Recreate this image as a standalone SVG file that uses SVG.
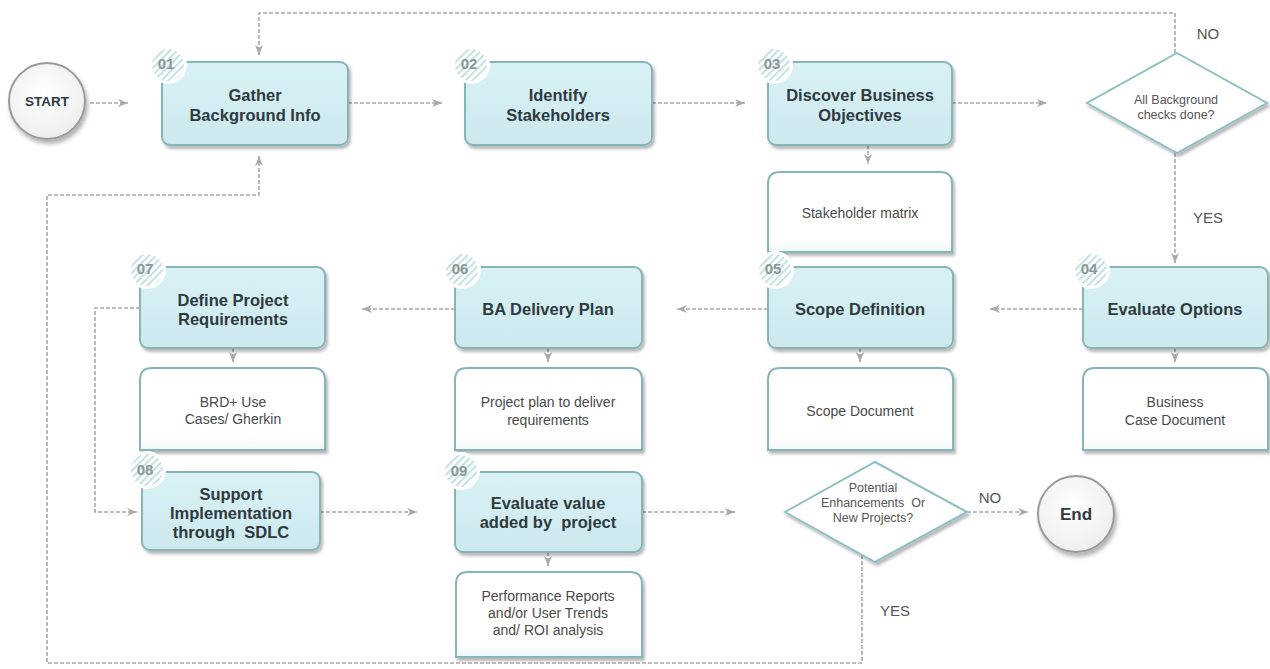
<svg xmlns="http://www.w3.org/2000/svg" width="1270" height="669" viewBox="0 0 1270 669">
<defs>
<pattern id="hatch" width="5" height="5" patternUnits="userSpaceOnUse" patternTransform="rotate(45)">
<rect width="5" height="5" fill="#ffffff"/>
<rect width="2.2" height="5" fill="#c7e2e4"/>
</pattern>
<linearGradient id="boxg" x1="0" y1="0" x2="0" y2="1">
<stop offset="0" stop-color="#d9f1f5"/>
<stop offset="1" stop-color="#cde9ee"/>
</linearGradient>
<linearGradient id="docg" x1="0" y1="0" x2="0" y2="1">
<stop offset="0" stop-color="#ffffff"/>
<stop offset="0.85" stop-color="#ffffff"/>
<stop offset="1" stop-color="#eef5f5"/>
</linearGradient>
<radialGradient id="circg" cx="0.45" cy="0.4" r="0.6">
<stop offset="0" stop-color="#ffffff"/>
<stop offset="1" stop-color="#eeeeee"/>
</radialGradient>
<filter id="sh" x="-10%" y="-10%" width="125%" height="130%">
<feDropShadow dx="2" dy="3" stdDeviation="1.5" flood-color="#000" flood-opacity="0.28"/>
</filter>
<filter id="shc" x="-20%" y="-20%" width="150%" height="150%">
<feDropShadow dx="2" dy="4" stdDeviation="2" flood-color="#000" flood-opacity="0.3"/>
</filter>
<marker id="arr" markerUnits="userSpaceOnUse" markerWidth="11" markerHeight="11" refX="10" refY="5" orient="auto">
<path d="M0,1 L10,5 L0,9 L3,5 Z" fill="#a9a9a9"/>
</marker>
<style>
.box{fill:url(#boxg);stroke:#86b5b7;stroke-width:2;filter:url(#sh)}
.doc{fill:url(#docg);stroke:#86b5b7;stroke-width:2;filter:url(#sh)}
.dia{fill:#ffffff;stroke:#8fc0c2;stroke-width:2;filter:url(#sh)}
.circ{fill:url(#circg);stroke:#9a9a9a;stroke-width:2;filter:url(#shc)}
.ring{fill:#ffffff}
.badge{fill:url(#hatch)}
.num{font-family:"Liberation Sans",Arial,sans-serif;font-weight:bold;font-size:15px;fill:#8a9898;text-anchor:middle;dominant-baseline:central}
.t{font-family:"Liberation Sans",Arial,sans-serif;font-weight:bold;font-size:16.5px;fill:#2e3a40;text-anchor:middle;dominant-baseline:central}
.d{font-family:"Liberation Sans",Arial,sans-serif;font-size:14px;fill:#4a4a4a;text-anchor:middle;dominant-baseline:central}
.q{font-family:"Liberation Sans",Arial,sans-serif;font-size:12.5px;fill:#555;text-anchor:middle;dominant-baseline:central}
.lbl{font-family:"Liberation Sans",Arial,sans-serif;font-size:15px;fill:#555;text-anchor:middle;dominant-baseline:central}
.c{fill:none;stroke:#a9a9a9;stroke-width:1.6;stroke-dasharray:4 2}
.ca{fill:none;stroke:#a9a9a9;stroke-width:1.6;stroke-dasharray:4 2;marker-end:url(#arr)}
</style>
</defs>
<rect width="1270" height="669" fill="#ffffff"/>

<g id="connectors">
<path class="ca" d="M90,103 H128"/>
<path class="ca" d="M348,103 H442"/>
<path class="ca" d="M652,103 H745"/>
<path class="ca" d="M952,103 H1047"/>
<path class="ca" d="M1175,53 V13 H259 V55"/>
<path class="ca" d="M868,145 V164"/>
<path class="ca" d="M1175,153 V263"/>
<path class="ca" d="M1083,309 H990"/>
<path class="ca" d="M768,309 H677"/>
<path class="ca" d="M455,309 H362"/>
<path class="ca" d="M1175,348 V362"/>
<path class="ca" d="M860,348 V362"/>
<path class="ca" d="M548,348 V362"/>
<path class="ca" d="M233,348 V362"/>
<path class="ca" d="M140,308 H95 V512 H137"/>
<path class="ca" d="M320,512 H417"/>
<path class="ca" d="M642,512 H735"/>
<path class="ca" d="M548,552 V566"/>
<path class="ca" d="M967,512 H1028"/>
<path class="ca" d="M862,549 V663 H47 V195 H259 V156"/>
<text class="lbl" x="1208" y="33">NO</text>
<text class="lbl" x="1208" y="217">YES</text>
<text class="lbl" x="990" y="497">NO</text>
<text class="lbl" x="895" y="610">YES</text>
</g>

<g id="start">
<circle class="circ" cx="47" cy="101" r="38"/>
<text class="t" x="47" y="101" style="font-size:13.5px">START</text>
</g>

<g id="n01">
<rect class="box" x="162" y="62" width="186" height="83" rx="8"/>
<circle class="ring" cx="168" cy="65" r="19"/>
<circle class="badge" cx="168" cy="65" r="16"/>
<text class="num" x="166" y="63">01</text>
<text class="t" x="255" y="95">Gather</text>
<text class="t" x="255" y="115">Background Info</text>
</g>

<g id="n02">
<rect class="box" x="465" y="62" width="187" height="83" rx="8"/>
<circle class="ring" cx="471" cy="65" r="19"/>
<circle class="badge" cx="471" cy="65" r="16"/>
<text class="num" x="469" y="63">02</text>
<text class="t" x="558" y="95">Identify</text>
<text class="t" x="558" y="115">Stakeholders</text>
</g>

<g id="n03">
<rect class="box" x="768" y="62" width="184" height="83" rx="8"/>
<circle class="ring" cx="774" cy="65" r="19"/>
<circle class="badge" cx="774" cy="65" r="16"/>
<text class="num" x="772" y="63">03</text>
<text class="t" x="860" y="95">Discover Business</text>
<text class="t" x="860" y="115">Objectives</text>
</g>

<g id="doc03">
<path class="doc" d="M768,184 Q768,172 780,172 H940 Q952,172 952,184 V252 H768 Z"/>
<text class="d" x="860" y="213">Stakeholder matrix</text>
</g>

<g id="dec1">
<polygon class="dia" points="1177,53 1267,103 1177,153 1087,103"/>
<text class="q" x="1176" y="100">All Background</text>
<text class="q" x="1176" y="115">checks done?</text>
</g>

<g id="n04">
<rect class="box" x="1083" y="267" width="185" height="81" rx="8"/>
<circle class="ring" cx="1091" cy="270" r="19"/>
<circle class="badge" cx="1091" cy="270" r="16"/>
<text class="num" x="1089" y="268">04</text>
<text class="t" x="1175" y="309">Evaluate Options</text>
</g>

<g id="doc04">
<path class="doc" d="M1083,380 Q1083,368 1095,368 H1256 Q1268,368 1268,380 V450 H1083 Z"/>
<text class="d" x="1175" y="402">Business</text>
<text class="d" x="1175" y="420">Case Document</text>
</g>

<g id="n05">
<rect class="box" x="768" y="267" width="185" height="81" rx="8"/>
<circle class="ring" cx="775" cy="270" r="19"/>
<circle class="badge" cx="775" cy="270" r="16"/>
<text class="num" x="773" y="268">05</text>
<text class="t" x="860" y="309">Scope Definition</text>
</g>

<g id="doc05">
<path class="doc" d="M768,380 Q768,368 780,368 H941 Q953,368 953,380 V450 H768 Z"/>
<text class="d" x="860" y="411">Scope Document</text>
</g>

<g id="n06">
<rect class="box" x="455" y="267" width="187" height="81" rx="8"/>
<circle class="ring" cx="462" cy="270" r="19"/>
<circle class="badge" cx="462" cy="270" r="16"/>
<text class="num" x="460" y="268">06</text>
<text class="t" x="548" y="309">BA Delivery Plan</text>
</g>

<g id="doc06">
<path class="doc" d="M455,380 Q455,368 467,368 H630 Q642,368 642,380 V450 H455 Z"/>
<text class="d" x="548" y="402">Project plan to deliver</text>
<text class="d" x="548" y="420">requirements</text>
</g>

<g id="n07">
<rect class="box" x="140" y="267" width="185" height="81" rx="8"/>
<circle class="ring" cx="147" cy="270" r="19"/>
<circle class="badge" cx="147" cy="270" r="16"/>
<text class="num" x="145" y="268">07</text>
<text class="t" x="233" y="300">Define Project</text>
<text class="t" x="233" y="319">Requirements</text>
</g>

<g id="doc07">
<path class="doc" d="M140,380 Q140,368 152,368 H313 Q325,368 325,380 V450 H140 Z"/>
<text class="d" x="233" y="402">BRD+ Use</text>
<text class="d" x="233" y="419">Cases/ Gherkin</text>
</g>

<g id="n08">
<rect class="box" x="142" y="472" width="178" height="78" rx="8"/>
<circle class="ring" cx="147" cy="470" r="19"/>
<circle class="badge" cx="147" cy="470" r="16"/>
<text class="num" x="145" y="469">08</text>
<text class="t" x="231" y="494">Support</text>
<text class="t" x="231" y="513">Implementation</text>
<text class="t" x="231" y="532" xml:space="preserve">through  SDLC</text>
</g>

<g id="n09">
<rect class="box" x="455" y="472" width="187" height="80" rx="8"/>
<circle class="ring" cx="461" cy="471" r="19"/>
<circle class="badge" cx="461" cy="471" r="16"/>
<text class="num" x="459" y="470">09</text>
<text class="t" x="548" y="503">Evaluate value</text>
<text class="t" x="548" y="522" xml:space="preserve">added by  project</text>
</g>

<g id="doc09">
<path class="doc" d="M456,584 Q456,572 468,572 H630 Q642,572 642,584 V657 H456 Z"/>
<text class="d" x="548" y="596">Performance Reports</text>
<text class="d" x="548" y="613">and/or User Trends</text>
<text class="d" x="548" y="630">and/ ROI analysis</text>
</g>

<g id="dec2">
<polygon class="dia" points="875,462 967,512 875,562 785,512"/>
<text class="q" x="873" y="488">Potential</text>
<text class="q" x="873" y="503" xml:space="preserve">Enhancements  Or</text>
<text class="q" x="873" y="518">New Projects?</text>
</g>

<g id="end">
<circle class="circ" cx="1076" cy="514" r="38"/>
<text class="t" x="1076" y="514" style="font-size:17px">End</text>
</g>
</svg>
